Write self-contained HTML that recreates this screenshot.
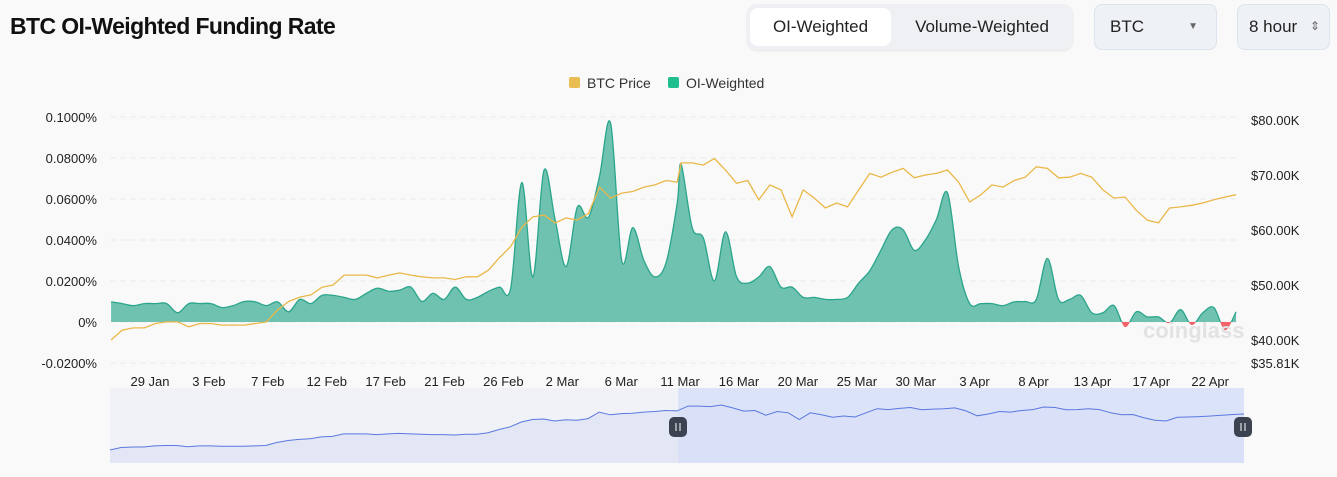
<!DOCTYPE html>
<html><head><meta charset="utf-8"><style>
body{margin:0;width:1337px;height:477px;background:#f9f9f9;font-family:"Liberation Sans",sans-serif;overflow:hidden;position:relative}
.t{position:absolute;left:10px;top:13px;font-size:23px;font-weight:bold;color:#111;letter-spacing:-0.6px}
.grp{position:absolute;left:747px;top:4px;width:326px;height:46px;background:#eef0f3;border-radius:10px;box-shadow:0 1px 2px rgba(0,0,0,.08)}
.b{position:absolute;top:4px;height:38px;line-height:38px;font-size:17px;color:#222;text-align:center}
.sel{position:absolute;top:4px;height:46px;background:#eef1f5;border:1px solid #dde3ea;border-radius:8px;box-sizing:border-box;font-size:17px;color:#222;line-height:44px}
</style></head><body>
<div class="t">BTC OI-Weighted Funding Rate</div>
<div class="grp">
 <div class="b" style="left:3px;width:141px;background:#fff;border-radius:8px">OI-Weighted</div>
 <div class="b" style="left:150px;width:170px">Volume-Weighted</div>
</div>
<div class="sel" style="left:1094px;width:123px;padding-left:15px">BTC<span style="position:absolute;right:18px;top:0;font-size:10px;color:#666">▼</span></div>
<div class="sel" style="left:1237px;width:93px;padding-left:11px">8 hour<span style="position:absolute;right:9px;top:-1px;font-size:12px;color:#666">⇕</span></div>
<svg id="c" width="1337" height="477" style="position:absolute;left:0;top:0"></svg>
<script>
const funding=[9.8,9,8,9,9,9,4.5,9,9,9,7,8,10,9.8,8,9.8,5,11,9,13,13,12,11,14,16.5,15,15.5,17,10,14,11,17,11,12,15,17,16.5,68,22,74,50,27,56,51,71,97,30,46,30,22,29,58,
77,46,41,20,44,22,19,22,27,17,17,12,12,11,11,12,19,25,35,45,45,35,40,50,63,27,9,9,9,8,9.8,10,11,31,11,11,13,4.5,4.5,8,-2.5,5,2.5,2.5,-0.5,6,-1.5,4.5,7,-4,5];
const price=[40,41.8,42.2,42.2,43,43.3,43.3,42.4,43,43,42.7,42.7,42.7,43,43.3,45.5,47,47.8,48.2,49.6,50,51.8,51.8,51.8,51.3,51.8,52.2,51.8,51.5,51.3,51.3,51,51.5,51.5,52.7,55,57,60.5,62.4,62.7,61.3,62.2,61.8,63,67.8,65.8,66.7,67,67.8,68.2,69,68.7,
72.2,72.2,71.8,73,70.9,68.5,69,65.5,68.2,67.3,62.4,67.3,65.8,64,64.9,64.2,67.3,70.3,69.6,70.5,71.2,69.5,70,70.3,70.9,68.7,65.1,66.4,68.2,67.8,69,69.6,71.5,71.2,69.5,69.6,70.3,69.6,67.3,65.8,66,63.6,61.8,61.3,64,64.2,64.5,64.9,65.5,66,66.4];
const dateLabels=["29 Jan","3 Feb","7 Feb","12 Feb","17 Feb","21 Feb","26 Feb","2 Mar","6 Mar","11 Mar","16 Mar","20 Mar","25 Mar","30 Mar","3 Apr","8 Apr","13 Apr","17 Apr","22 Apr"];
const leftTicks=[0.1,0.08,0.06,0.04,0.02,0,-0.02];
const rightTicks=[80,70,60,50,40];
const svg=document.getElementById('c');const NS='http://www.w3.org/2000/svg';
function mk(t,a,p){const e=document.createElementNS(NS,t);for(const k in a)e.setAttribute(k,a[k]);(p||svg).appendChild(e);return e}
const n=funding.length;
const X=i=>i<52?111.1+i*11.1:681.1+(i-52)*11.1;
const Yf=v=>322-v*2.05;
const Yp=p=>120+(80-p)*5.5;
function path(pts){let d='M'+pts[0][0]+','+pts[0][1];for(let i=0;i<pts.length-1;i++){const p0=pts[i-1]||pts[i],p1=pts[i],p2=pts[i+1],p3=pts[i+2]||p2;const c1=[p1[0]+(p2[0]-p0[0])/6,p1[1]+(p2[1]-p0[1])/6],c2=[p2[0]-(p3[0]-p1[0])/6,p2[1]-(p3[1]-p1[1])/6];d+=`C${c1[0].toFixed(1)},${c1[1].toFixed(1)} ${c2[0].toFixed(1)},${c2[1].toFixed(1)} ${p2[0].toFixed(1)},${p2[1].toFixed(1)}`}return d}
leftTicks.forEach(t=>{const y=Yf(t*1000);
 let g=mk('line',{x1:110,x2:1240,y1:y,y2:y,stroke:'#ececec','stroke-dasharray':'6,4'});
 let l=mk('text',{x:97,y:y+5,'text-anchor':'end','font-size':13,fill:'#222'});l.textContent=t===0?'0%':t.toFixed(4)+'%';
 });
rightTicks.forEach(t=>{let l=mk('text',{x:1251,y:Yp(t)+5,'font-size':13,fill:'#222'});l.textContent='$'+t.toFixed(2)+'K';
 });
let lm=mk('text',{x:1251,y:368,'font-size':13,fill:'#222'});lm.textContent='$35.81K';
const tickPx=[150,208,268,328,386,445,504,562,622,680,740,798,857,917,975,1037,1094,1153,1210];
dateLabels.forEach((d,i)=>{let l=mk('text',{x:150+i*58.9,y:386,'text-anchor':'middle','font-size':13,fill:'#222'});l.textContent=d;
 });
const pts=funding.map((v,i)=>[X(i),Yf(v)]);
const line=path(pts);const area=line+`L${X(n-1)},322L${X(0)},322Z`;
const defs=mk('defs',{});
const c1=mk('clipPath',{id:'up'},defs);mk('rect',{x:0,y:0,width:1337,height:322},c1);
const c2=mk('clipPath',{id:'dn'},defs);mk('rect',{x:0,y:322,width:1337,height:100},c2);
let a1=mk('path',{d:area,fill:'#6fc1b0','clip-path':'url(#up)'});
let a2=mk('path',{d:area,fill:'#f0636b','clip-path':'url(#dn)'});
let fl=mk('path',{d:line,fill:'none',stroke:'#2aa58b','stroke-width':1.3,'clip-path':'url(#up)'});
let wm=mk('text',{x:1143,y:338,'font-size':22,'font-weight':'bold',fill:'#e2e2e2'});wm.textContent='coinglass';
let pl=mk('path',{d:price.map((p,i)=>(i?'L':'M')+X(i).toFixed(1)+','+Yp(p).toFixed(1)).join(''),fill:'none',stroke:'#eab849','stroke-width':1.3});

let r1=mk('rect',{x:569,y:77,width:11,height:11,rx:2,fill:'#e9bd52'});
let t1=mk('text',{x:587,y:88,'font-size':14,fill:'#333'});t1.textContent='BTC Price';
let r2=mk('rect',{x:668,y:77,width:11,height:11,rx:2,fill:'#1fbf8f'});
let t2=mk('text',{x:686,y:88,'font-size':14,fill:'#333'});t2.textContent='OI-Weighted';
let nb=mk('rect',{x:110,y:388,width:1134,height:75,fill:'#f0f2f8'});
const NX=i=>110+i*(1134/(n-1)),NY=p=>450-(p-40)/33*45;
const np=price.map((p,i)=>(i?'L':'M')+NX(i).toFixed(1)+','+NY(p).toFixed(1)).join('');
let na=mk('path',{d:np+`L${NX(n-1)},463L110,463Z`,fill:'#e3e7f5'});
let ns=mk('rect',{x:678,y:388,width:566,height:75,fill:'#d6def8',opacity:0.8});
let nl=mk('path',{d:np,fill:'none',stroke:'#5a78e0','stroke-width':1});
[678,1243].forEach(x=>{let h=mk('rect',{x:x-9,y:417,width:18,height:20,rx:5,fill:'#3d4250'});
 mk('line',{x1:x-2,x2:x-2,y1:423,y2:431,stroke:'#fff','stroke-width':1});mk('line',{x1:x+2,x2:x+2,y1:423,y2:431,stroke:'#fff','stroke-width':1});});
</script>
</body></html>
